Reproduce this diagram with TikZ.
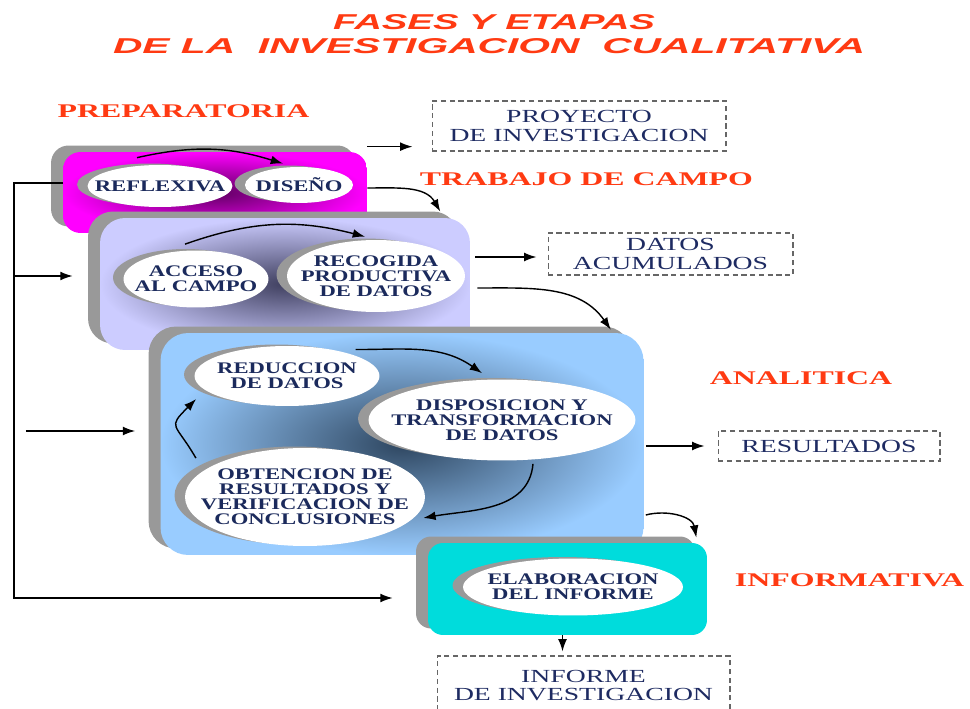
\documentclass[tikz,border=0pt]{standalone}
\usepackage{fontspec}
\setmainfont{Liberation Serif}
\newfontfamily\etapafont[FakeStretch=1.4]{Liberation Serif}
\newfontfamily\cajafont[FakeStretch=1.5]{Liberation Serif}
\newfontfamily\fasefont[FakeStretch=1.65]{Liberation Serif}
\newfontfamily\titulofont{Liberation Sans}
\usepackage{tikz}
\usetikzlibrary{calc,positioning,shapes.geometric,shadows,arrows.meta}
\definecolor{rojofase}{HTML}{FF3A12}
\definecolor{azultexto}{HTML}{1B2A5C}
\definecolor{azulcaja}{HTML}{1E2B62}
\definecolor{magoscuro}{HTML}{600062}
\definecolor{lavanda}{HTML}{CCCCFF}
\definecolor{lavoscuro}{HTML}{404060}
\definecolor{celeste}{HTML}{99CCFF}
\definecolor{celoscuro}{HTML}{2E4660}
\definecolor{turquesa}{HTML}{00DCDC}
\tikzset{
	fase/.style={rectangle, rounded corners=0.35cm, drop shadow={shadow xshift=-0.24cm, shadow yshift=0.13cm, fill=gray!80, opacity=1}},
	etapa/.style={ellipse, fill=white, inner sep=0pt, drop shadow={shadow xshift=-0.21cm, shadow yshift=0.03cm, fill=gray!80, opacity=1}, label={[textoetapa]center:#1}},
	textoetapa/.style={font=\etapafont\bfseries\fontsize{9.2}{8.6}\selectfont, text=azultexto, align=center, inner sep=0pt},
	producto/.style={draw=black!60, densely dashed, line width=0.6pt, inner sep=0pt, align=center, font=\cajafont\fontsize{10.5}{10.5}\selectfont, text=azulcaja},
	nombrefase/.style={font=\fasefont\bfseries\fontsize{11}{11}\selectfont, text=rojofase, inner sep=0pt},
	flecha/.style={-{Latex[length=7pt,width=5pt]}, line width=0.8pt},
}
\begin{document}
\begin{tikzpicture}[x=0.02cm, y=-0.02cm]
			\useasboundingbox (0,0) rectangle (970,709);
			\clip (0,0) rectangle (970,709);
			% titulo
			\node[text=rojofase, inner sep=0pt] (tit1) at (494,22.5) {\resizebox{6.44cm}{0.3cm}{\titulofont\bfseries\itshape FASES Y ETAPAS}};
			\node[text=rojofase, inner sep=0pt] (tit2) at (489,46.5) {\resizebox{15.04cm}{0.3cm}{\titulofont\bfseries\itshape DE LA\ \ INVESTIGACION\ \ CUALITATIVA}};
			% fases
			\node[nombrefase] (tprep) at (183.5,111) {PREPARATORIA};
			\node[nombrefase] (tcampo) at (586.5,179) {TRABAJO DE CAMPO};
			\node[nombrefase] (tanal) at (801,378) {ANALITICA};
			\node[nombrefase] (tinfo) at (849.5,580) {INFORMATIVA};
			% preparatoria
			\node[fase, minimum width=6.08cm, minimum height=1.62cm, inner color=magoscuro, outer color=magenta] (prep) at (215,192.5) {};
			\node[etapa={REFLEXIVA}, minimum width=2.9cm, minimum height=0.84cm] (refl) at (160,186) {};
			\node[etapa={DISEÑO}, minimum width=2.16cm, minimum height=0.72cm] (dise) at (299,185) {};
			% trabajo de campo
			\node[fase, rounded corners=0.5cm, minimum width=7.4cm, minimum height=2.64cm, inner color=lavoscuro, outer color=lavanda] (campo) at (285,284) {};
			\node[etapa={ACCESO\\AL CAMPO}, minimum width=2.9cm, minimum height=1.14cm] (acceso) at (196,279) {};
			\node[etapa={RECOGIDA\\PRODUCTIVA\\DE DATOS}, minimum width=3.56cm, minimum height=1.44cm] (recog) at (376,276) {};
			% analitica
			\node[fase, rounded corners=0.55cm, minimum width=9.66cm, minimum height=4.44cm, inner color=celoscuro, outer color=celeste] (anal) at (402,444) {};
			\node[etapa={REDUCCION\\DE DATOS}, minimum width=3.7cm, minimum height=1.2cm] (reduc) at (287,376) {};
			\node[etapa={DISPOSICION Y\\TRANSFORMACION\\DE DATOS}, minimum width=5.34cm, minimum height=1.62cm] (dispo) at (502,420) {};
			\node[etapa={OBTENCION DE\\RESULTADOS Y\\VERIFICACION DE\\CONCLUSIONES}, minimum width=4.8cm, minimum height=1.96cm] (obten) at (305,497) {};
			% informativa
			\node[fase, rounded corners=0.3cm, minimum width=5.58cm, minimum height=1.84cm, fill=turquesa] (info) at (567.5,589) {};
			\node[etapa={ELABORACION\\DEL INFORME}, minimum width=4.4cm, minimum height=1.14cm] (elab) at (573,587) {};
			% productos
			\node[producto, minimum width=5.88cm, minimum height=1.0cm] (proy) at (579,126) {PROYECTO\\DE INVESTIGACION};
			\node[producto, minimum width=4.9cm, minimum height=0.84cm] (datos) at (670.5,254) {DATOS\\ACUMULADOS};
			\node[producto, minimum width=4.44cm, minimum height=0.6cm] (result) at (829,446) {RESULTADOS};
			\node[producto, minimum width=5.86cm, minimum height=1.18cm] (inform) at (583.5,685.5) {INFORME\\DE INVESTIGACION};
			% flechas
			\draw[flecha, shorten >=0.38cm] ($(prep.north east)+(0,-5)$) -- ($(prep.north east -| proy.west)+(0,-5)$);
			\draw[flecha] ($(refl.north)+(-23,-7)$) to[bend left=15] ($(dise.north)+(-16,-3)$);
			\draw[flecha] ($(prep.east)+(0,-4.5)$) to[out=0, in=120] ($(campo.north east)+(-30,-6)$);
			\draw[flecha] ($(acceso.north)+(-11,-6)$) to[bend left=17] ($(recog.north)+(-11,-3)$);
			\draw[flecha, shorten <=0.1cm, shorten >=0.22cm] ($(campo.east |- datos.west)+(0,3)$) -- ($(datos.west)+(0,3)$);
			\draw[flecha] ($(campo.east)+(7,4)$) to[out=0, in=125] ($(anal.north east)+(-33,-3)$);
			\draw[flecha] ($(reduc.north east)+(3,-5)$) to[out=0, in=145] ($(dispo.north)+(-20,-6)$);
			\draw[flecha] ($(dispo.south)+(31,3)$) to[out=-95, in=10] ($(obten.east)+(-2,21)$);
			\draw[flecha, looseness=1.8] ($(obten.north west)+(-24,-4)$) to[out=120, in=-135] ($(reduc.west)+(2,23)$);
			\draw[flecha, shorten <=0.04cm, shorten >=0.26cm] (anal.east |- result.west) -- (result.west);
			\draw[flecha] ($(anal.east)+(2,71)$) to[out=15, in=100] ($(info.north east)+(-11,-5)$);
			\draw[flecha] ($(info.south)+(-5,0)$) -- ($(info.south |- inform.north)+(-5,-4)$);
			% retorno
			\coordinate (retorno) at (14,183);
			\draw[flecha, shorten >=0.7cm] ($(prep.west)+(0,-9.5)$) -- (retorno) |- ($(info.west)+(0,9)$);
			\draw[flecha, shorten >=0.54cm] ($(retorno |- acceso)+(0,-3)$) -- ($(acceso -| campo.west)+(0,-3)$);
			\draw[flecha, shorten <=0.24cm, shorten >=0.5cm] ($(retorno |- anal.west)+(0,-13)$) -- ($(anal.west)+(0,-13)$);
	\end{tikzpicture}
\end{document}
